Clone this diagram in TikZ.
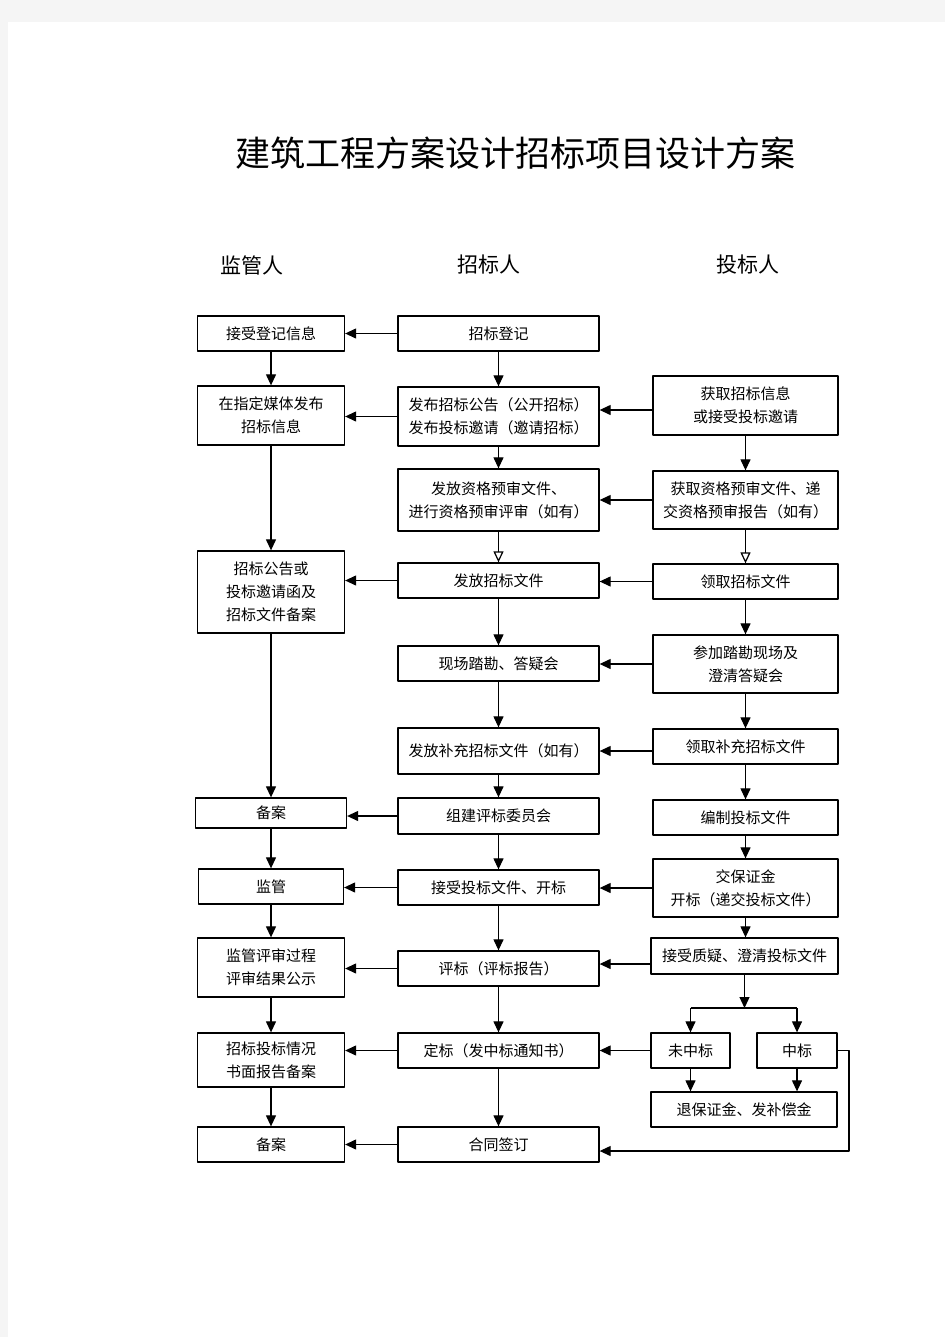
\documentclass[tikz,border=0pt]{standalone}
\usepackage{fontspec}
\setmainfont{Noto Sans CJK SC}
\usetikzlibrary{arrows.meta}

\begin{document}
\begin{tikzpicture}[x=1pt, y=-1pt, line join=round, >={Triangle[length=11pt,width=10pt]},
		box/.style={draw, line width=1.3pt, align=center, inner sep=0pt, font=\fontsize{15}{23}\selectfont},
		arr/.style={->, line width=1.2pt},
		oarr/.style={-{Triangle[open,length=11pt,width=10pt]}, line width=1.2pt}]
		\def\xl{271}\def\xm{498.5}\def\xr{745.5}
		\fill[black!4] (0,0) rectangle (945,1337);
		\fill[white] (8,22) rectangle (945,1337);
		\useasboundingbox (0,0) rectangle (945,1337);
		% title and columns
		\node[font=\fontsize{35}{35}\selectfont] (title) at (515,153) {建筑工程方案设计招标项目设计方案};
		\node[font=\fontsize{21}{21}\selectfont] (hjg) at (252,265) {监管人};
		\node[font=\fontsize{21}{21}\selectfont] (hzb) at (489,265) {招标人};
		\node[font=\fontsize{21}{21}\selectfont] (htb) at (748,265) {投标人};
		% supervisor
		\node[box, minimum width=147, minimum height=35] (jsdj) at (\xl,333.5) {接受登记信息};
		\node[box, minimum width=147, minimum height=59] (zdmt) at (\xl,415.5) {在指定媒体发布\\招标信息};
		\node[box, minimum width=147, minimum height=82] (ggba) at (\xl,592) {招标公告或\\投标邀请函及\\招标文件备案};
		\node[box, minimum width=151, minimum height=30] (baa) at (\xl,813) {备案};
		\node[box, minimum width=145, minimum height=35] (jg) at (\xl,886.5) {监管};
		\node[box, minimum width=147, minimum height=59] (jgps) at (\xl,967.5) {监管评审过程\\评审结果公示};
		\node[box, minimum width=147, minimum height=54] (bgba) at (\xl,1060) {招标投标情况\\书面报告备案};
		\node[box, minimum width=147, minimum height=35] (bab) at (\xl,1144.5) {备案};
		% tenderee
		\node[box, minimum width=201, minimum height=35] (zbdj) at (\xm,333.5) {招标登记};
		\node[box, minimum width=201, minimum height=59] (fbgg) at (\xm,416.5) {发布招标公告（公开招标）\\发布投标邀请（邀请招标）};
		\node[box, minimum width=201, minimum height=62] (zgys) at (\xm,500) {发放资格预审文件、\\进行资格预审评审（如有）};
		\node[box, minimum width=201, minimum height=35] (ffzb) at (\xm,580.5) {发放招标文件};
		\node[box, minimum width=201, minimum height=35] (xckc) at (\xm,663.5) {现场踏勘、答疑会};
		\node[box, minimum width=201, minimum height=46] (bczb) at (\xm,751) {发放补充招标文件（如有）};
		\node[box, minimum width=201, minimum height=36] (zjpb) at (\xm,816) {组建评标委员会};
		\node[box, minimum width=201, minimum height=35] (jstb) at (\xm,887.5) {接受投标文件、开标};
		\node[box, minimum width=201, minimum height=35] (pb) at (\xm,968.5) {评标（评标报告）};
		\node[box, minimum width=201, minimum height=35] (db) at (\xm,1050.5) {定标（发中标通知书）};
		\node[box, minimum width=201, minimum height=35] (ht) at (\xm,1144.5) {合同签订};
		% bidder
		\node[box, minimum width=185, minimum height=59] (hqxx) at (\xr,405.5) {获取招标信息\\或接受投标邀请};
		\node[box, minimum width=185, minimum height=58] (hqzg) at (\xr,500) {获取资格预审文件、递\\交资格预审报告（如有）};
		\node[box, minimum width=185, minimum height=35] (lqzb) at (\xr,581.5) {领取招标文件};
		\node[box, minimum width=185, minimum height=58] (cjtk) at (\xr,664) {参加踏勘现场及\\澄清答疑会};
		\node[box, minimum width=185, minimum height=35] (lqbc) at (\xr,746.5) {领取补充招标文件};
		\node[box, minimum width=185, minimum height=35] (bztb) at (\xr,817.5) {编制投标文件};
		\node[box, minimum width=185, minimum height=58] (jbzj) at (\xr,888) {交保证金\\开标（递交投标文件）};
		\node[box, minimum width=187, minimum height=36] (jszy) at (744.5,956) {接受质疑、澄清投标文件};
		\node[box, minimum width=79, minimum height=35] (wzb) at (690.5,1050.5) {未中标};
		\node[box, minimum width=80, minimum height=35] (zb) at (797,1050.5) {中标};
		\node[box, minimum width=186, minimum height=35] (tbzj) at (744,1109.5) {退保证金、发补偿金};
		\coordinate (fork) at (744.5,1008);
		\coordinate (zbturn) at (849,1151);
		% downward arrows
		\foreach \a/\b in {jsdj/zdmt, zdmt/ggba, ggba/baa, baa/jg, jg/jgps, jgps/bgba, bgba/bab,
				zbdj/fbgg, fbgg/zgys, ffzb/xckc, xckc/bczb, bczb/zjpb, zjpb/jstb, jstb/pb, pb/db, db/ht,
				hqxx/hqzg, lqzb/cjtk, cjtk/lqbc, lqbc/bztb, bztb/jbzj, jbzj/jszy, wzb/tbzj, zb/tbzj}
			\draw[arr] (\a.south) -- (\a.south |- \b.north);
		\draw[oarr] (zgys.south) -- (ffzb.north);
		\draw[oarr] (hqzg.south) -- (lqzb.north);
		% leftward arrows
		\foreach \a/\b in {zbdj/jsdj, fbgg/zdmt, ffzb/ggba, zjpb/baa, jstb/jg, pb/jgps, db/bgba, ht/bab,
				hqzg/zgys, lqzb/ffzb, cjtk/xckc, jbzj/jstb, wzb/db}
			\draw[arr] (\a.west) -- (\a.west -| \b.east);
		\draw[arr] (hqxx.west |- 0,410) -- (fbgg.east |- 0,410);
		\draw[arr] (lqbc.west |- bczb.east) -- (bczb.east);
		\draw[arr] (jszy.west |- 0,964) -- (pb.east |- 0,964);
		% result split
		\draw[arr] (jszy.south) -- (fork);
		\draw[line width=1.2pt] (wzb.north |- fork) -- (zb.north |- fork);
		\draw[arr] (wzb.north |- fork) -- (wzb.north);
		\draw[arr] (zb.north |- fork) -- (zb.north);
		\draw[arr] (zb.east) -| (zbturn) -- (ht.east |- zbturn);
\end{tikzpicture}
\end{document}
